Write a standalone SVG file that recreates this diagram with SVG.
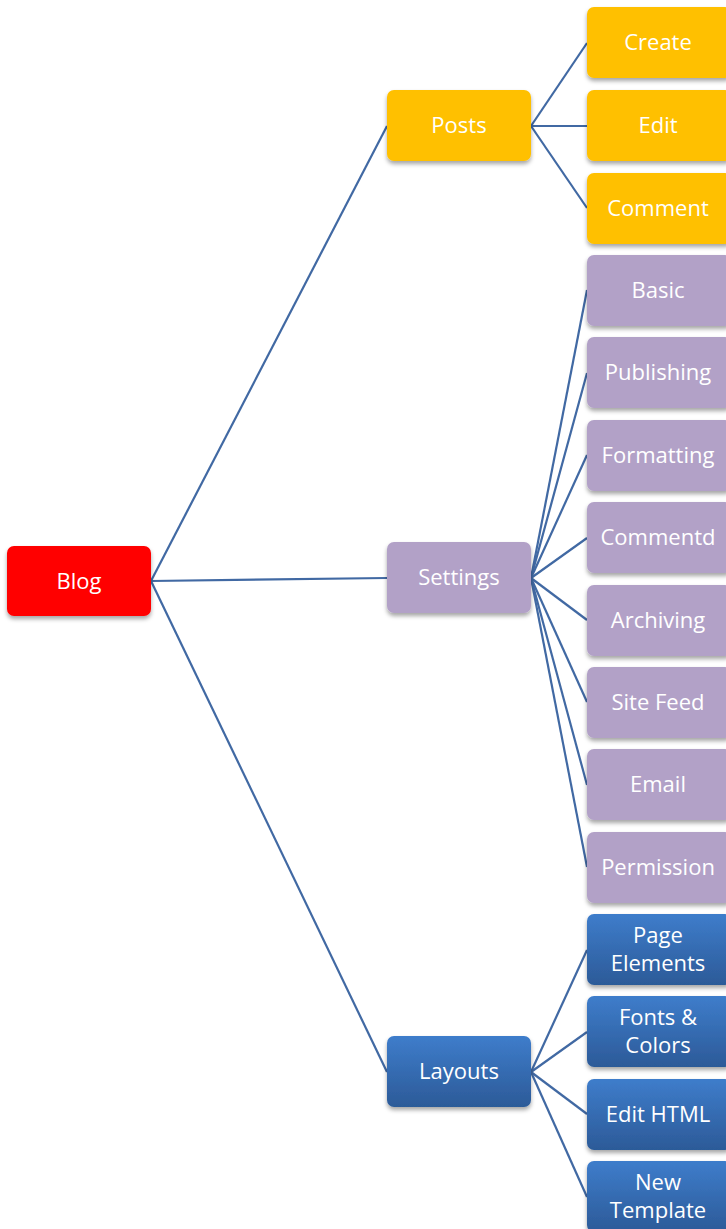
<svg xmlns="http://www.w3.org/2000/svg" width="726" height="1229" viewBox="0 0 726 1229">
<style>
.t{font-family:"Open Sans","Noto Sans","Liberation Sans",sans-serif;font-size:22px;fill:#fff;text-anchor:middle}
.c line{stroke:#4169a3;stroke-width:2.2;fill:none}
.red{fill:#ff0000}
.yel{fill:#ffc000}
.pur{fill:#b2a1c7}
.blu{fill:url(#bg)}
</style>
<defs>
<linearGradient id="bg" x1="0" y1="0" x2="0" y2="1">
<stop offset="0" stop-color="#3e7dcb"/>
<stop offset="1" stop-color="#2c5a98"/>
</linearGradient>
<filter id="sh" x="-10%" y="-10%" width="120%" height="130%">
<feDropShadow dx="0" dy="3" stdDeviation="2" flood-color="#000" flood-opacity="0.35"/>
</filter>
</defs>
<g class="c" id="connectors">
<line x1="151" y1="581" x2="387" y2="126"/>
<line x1="151" y1="581" x2="387" y2="578"/>
<line x1="151" y1="581" x2="387" y2="1072"/>
<line x1="531" y1="126" x2="587" y2="43"/>
<line x1="531" y1="126" x2="587" y2="126"/>
<line x1="531" y1="126" x2="587" y2="208"/>
<line x1="531" y1="578" x2="587" y2="290"/>
<line x1="531" y1="578" x2="587" y2="373"/>
<line x1="531" y1="578" x2="587" y2="455"/>
<line x1="531" y1="578" x2="587" y2="538"/>
<line x1="531" y1="578" x2="587" y2="620"/>
<line x1="531" y1="578" x2="587" y2="702"/>
<line x1="531" y1="578" x2="587" y2="785"/>
<line x1="531" y1="578" x2="587" y2="867"/>
<line x1="531" y1="1072" x2="587" y2="950"/>
<line x1="531" y1="1072" x2="587" y2="1032"/>
<line x1="531" y1="1072" x2="587" y2="1114"/>
<line x1="531" y1="1072" x2="587" y2="1197"/>
</g>
<g id="blog"><rect class="red" x="7" y="546" width="144" height="70" rx="7" filter="url(#sh)"/><text class="t" x="79" y="589">Blog</text></g>
<g id="posts"><rect class="yel" x="387" y="90" width="144" height="71" rx="7" filter="url(#sh)"/><text class="t" x="459" y="133">Posts</text></g>
<g id="settings"><rect class="pur" x="387" y="542" width="144" height="71" rx="7" filter="url(#sh)"/><text class="t" x="459" y="585">Settings</text></g>
<g id="layouts"><rect class="blu" x="387" y="1036" width="144" height="71" rx="7" filter="url(#sh)"/><text class="t" x="459" y="1079">Layouts</text></g>
<g id="create"><rect class="yel" x="587" y="7" width="145" height="71" rx="7" filter="url(#sh)"/><text class="t" x="658" y="50">Create</text></g>
<g id="edit"><rect class="yel" x="587" y="90" width="145" height="71" rx="7" filter="url(#sh)"/><text class="t" x="658" y="133">Edit</text></g>
<g id="comment"><rect class="yel" x="587" y="173" width="145" height="71" rx="7" filter="url(#sh)"/><text class="t" x="658" y="216">Comment</text></g>
<g id="basic"><rect class="pur" x="587" y="255" width="145" height="71" rx="7" filter="url(#sh)"/><text class="t" x="658" y="298">Basic</text></g>
<g id="publishing"><rect class="pur" x="587" y="337" width="145" height="71" rx="7" filter="url(#sh)"/><text class="t" x="658" y="380">Publishing</text></g>
<g id="formatting"><rect class="pur" x="587" y="420" width="145" height="71" rx="7" filter="url(#sh)"/><text class="t" x="658" y="463">Formatting</text></g>
<g id="commentd"><rect class="pur" x="587" y="502" width="145" height="71" rx="7" filter="url(#sh)"/><text class="t" x="658" y="545">Commentd</text></g>
<g id="archiving"><rect class="pur" x="587" y="585" width="145" height="71" rx="7" filter="url(#sh)"/><text class="t" x="658" y="628">Archiving</text></g>
<g id="sitefeed"><rect class="pur" x="587" y="667" width="145" height="71" rx="7" filter="url(#sh)"/><text class="t" x="658" y="710">Site Feed</text></g>
<g id="email"><rect class="pur" x="587" y="749" width="145" height="71" rx="7" filter="url(#sh)"/><text class="t" x="658" y="792">Email</text></g>
<g id="permission"><rect class="pur" x="587" y="832" width="145" height="71" rx="7" filter="url(#sh)"/><text class="t" x="658" y="875">Permission</text></g>
<g id="pageelements"><rect class="blu" x="587" y="914" width="145" height="71" rx="7" filter="url(#sh)"/><text class="t" x="658" y="943">Page</text><text class="t" x="658" y="971">Elements</text></g>
<g id="fontscolors"><rect class="blu" x="587" y="996" width="145" height="71" rx="7" filter="url(#sh)"/><text class="t" x="658" y="1025">Fonts &amp;</text><text class="t" x="658" y="1053">Colors</text></g>
<g id="edithtml"><rect class="blu" x="587" y="1079" width="145" height="71" rx="7" filter="url(#sh)"/><text class="t" x="658" y="1122">Edit HTML</text></g>
<g id="newtemplate"><rect class="blu" x="587" y="1161" width="145" height="71" rx="7" filter="url(#sh)"/><text class="t" x="658" y="1190">New</text><text class="t" x="658" y="1218">Template</text></g>
</svg>
